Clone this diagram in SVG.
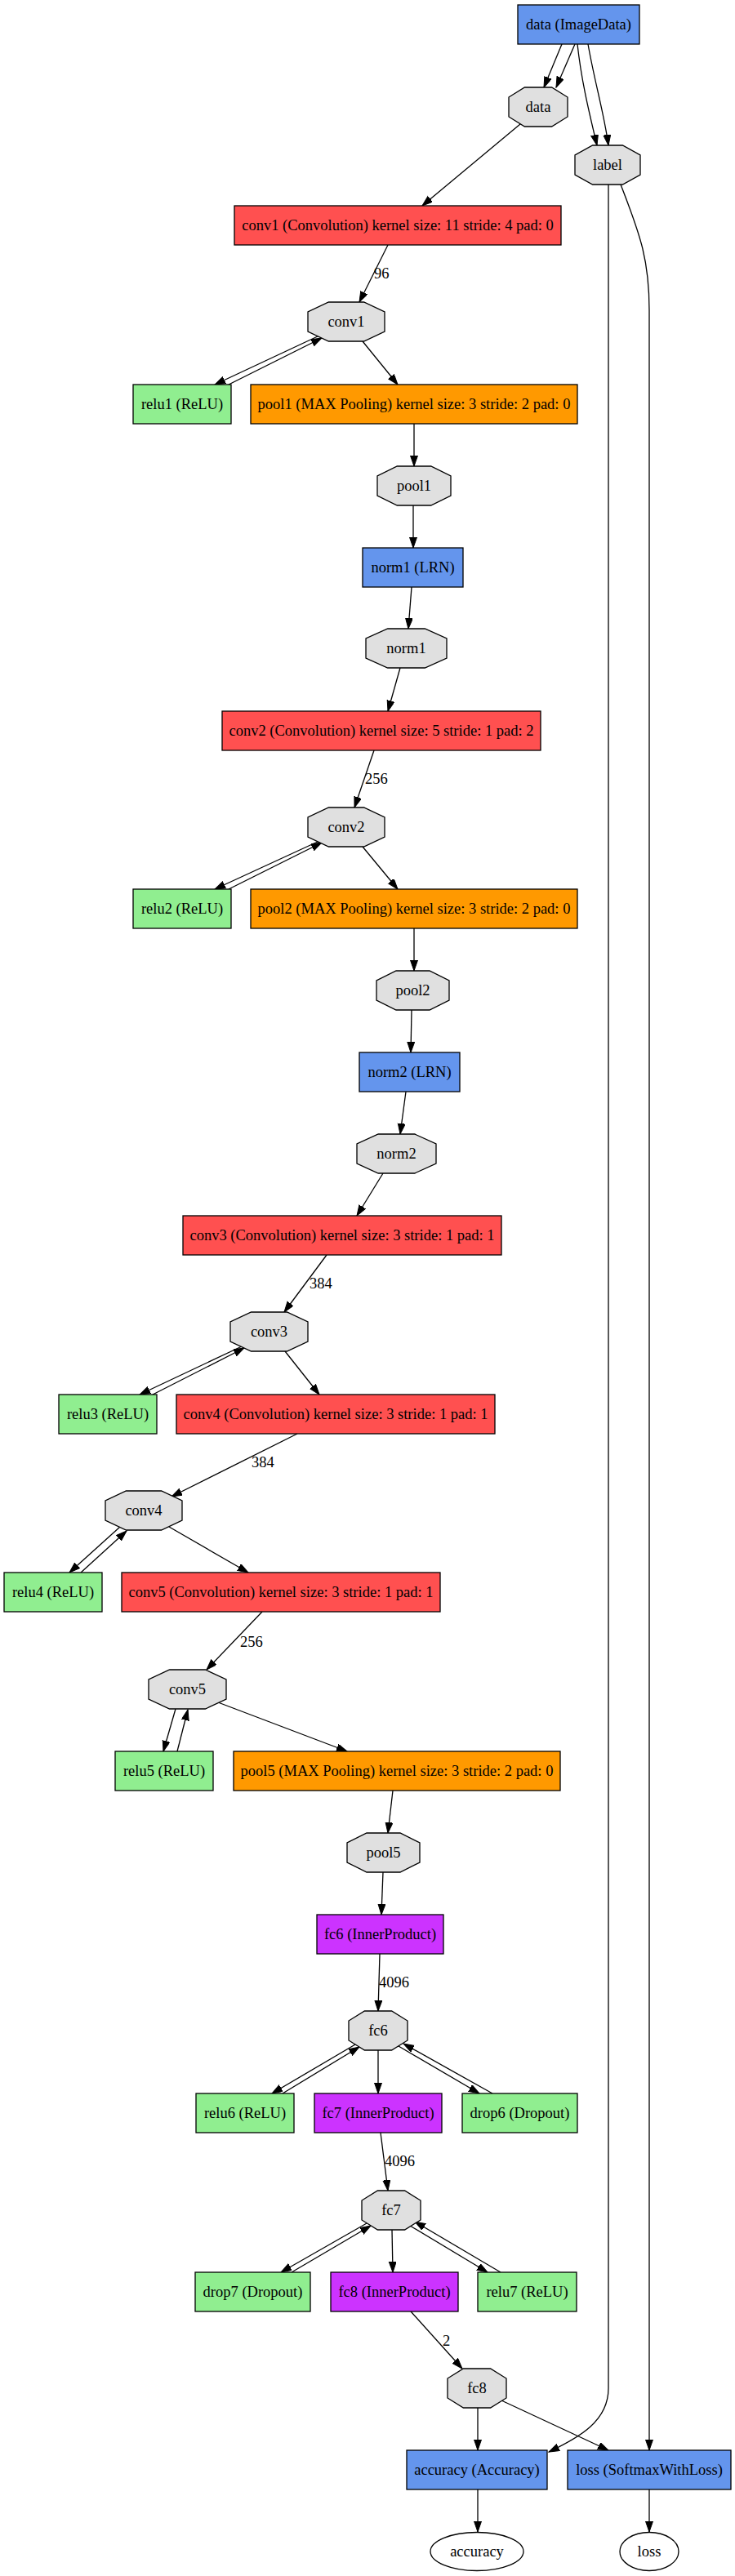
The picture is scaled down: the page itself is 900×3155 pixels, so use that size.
<svg xmlns="http://www.w3.org/2000/svg" width="900" height="3155" viewBox="0 0 900 3155">
<defs>
<marker id="ah" markerUnits="userSpaceOnUse" markerWidth="14" markerHeight="10" refX="13" refY="4.5" orient="auto">
<path d="M0,0 L13,4.5 L0,9 z" fill="#000" stroke="#000" stroke-width="1"/>
</marker>
<style>
text{font-family:"Liberation Serif","Times New Roman",serif;font-size:18.5px;fill:#000}
.n text{text-anchor:middle}
.box,.oct,.ell{stroke:#000;stroke-width:1.3}
.conv{fill:#FF5050}.pool{fill:#FF9900}.ip{fill:#CC33FF}.def{fill:#6495ED}.neu{fill:#90EE90}
.oct{fill:#E0E0E0}.ell{fill:#fff}
#edges path{fill:none;stroke:#000;stroke-width:1.3;marker-end:url(#ah)}
</style>
</defs>
<rect width="900" height="3155" fill="#fff"/>
<g id="edges">
<path d="M688,54 L666,107"/>
<path d="M704,54 L681,107"/>
<path d="M707,54 C712,100 722,140 731,178"/>
<path d="M720,54 C728,100 740,140 745,178"/>
<path d="M637,152 L517,252"/>
<path d="M475,300 L440,370"/>
<path d="M391,411 L263,471"/>
<path d="M280,471 L394,414"/>
<path d="M444,418 L487,471"/>
<path d="M507,519 L507,571"/>
<path d="M506,619 L506,671"/>
<path d="M504,719 L500,770"/>
<path d="M490,818 L475,871"/>
<path d="M458,919 L434,989"/>
<path d="M391,1030 L263,1089"/>
<path d="M280,1089 L394,1032"/>
<path d="M444,1037 L487,1089"/>
<path d="M507,1137 L507,1189"/>
<path d="M504,1237 L503,1289"/>
<path d="M497,1337 L490,1389"/>
<path d="M469,1437 L437,1489"/>
<path d="M400,1537 L348,1607"/>
<path d="M296,1649 L171,1708"/>
<path d="M187,1708 L299,1651"/>
<path d="M349,1655 L391,1708"/>
<path d="M364,1756 L210,1833"/>
<path d="M147,1870 L85,1926"/>
<path d="M99,1926 L155,1875"/>
<path d="M207,1870 L304,1926"/>
<path d="M321,1974 L253,2045"/>
<path d="M215,2093 L200,2145"/>
<path d="M217,2145 L230,2094"/>
<path d="M267,2085 L425,2145"/>
<path d="M481,2193 L475,2245"/>
<path d="M469,2293 L467,2345"/>
<path d="M465,2393 L463,2463"/>
<path d="M435,2504 L333,2564"/>
<path d="M346,2564 L440,2507"/>
<path d="M463,2511 L463,2564"/>
<path d="M488,2506 L587,2564"/>
<path d="M603,2564 L494,2503"/>
<path d="M466,2612 L475,2683"/>
<path d="M449,2723 L344,2783"/>
<path d="M357,2783 L454,2726"/>
<path d="M480,2731 L481,2783"/>
<path d="M502,2726 L597,2783"/>
<path d="M613,2783 L508,2721"/>
<path d="M503,2831 L566,2901"/>
<path d="M585,2949 L585,3001"/>
<path d="M614,2940 L745,3001"/>
<path d="M745,226 L745,2925 C745,2965 710,2985 672,3003"/>
<path d="M760,226 C785,290 795,320 795,380 L795,3001"/>
<path d="M585,3049 L585,3101"/>
<path d="M795,3049 L795,3101"/>
<text x="458" y="341">96</text>
<text x="447" y="960">256</text>
<text x="379" y="1578">384</text>
<text x="308" y="1797">384</text>
<text x="294" y="2017">256</text>
<text x="464" y="2434">4096</text>
<text x="471" y="2653">4096</text>
<text x="542" y="2873">2</text>
</g>
<g class="n" id="n_data_layer"><rect class="box def" x="634" y="6" width="149" height="48"/><text x="708.5" y="36">data (ImageData)</text></g>
<g class="n" id="n_data_blob"><polygon class="oct" points="642.4,107 675.6,107 695,119 695,143 675.6,155 642.4,155 623,143 623,119"/><text x="659" y="137">data</text></g>
<g class="n" id="n_label_blob"><polygon class="oct" points="725.6,178 762.4,178 784,190 784,214 762.4,226 725.6,226 704,214 704,190"/><text x="744" y="208">label</text></g>
<g class="n" id="n_conv1"><rect class="box conv" x="287" y="252" width="400" height="48"/><text x="487" y="282">conv1 (Convolution) kernel size: 11 stride: 4 pad: 0</text></g>
<g class="n" id="n_conv1_blob"><polygon class="oct" points="402.4,370 445.6,370 471,382 471,406 445.6,418 402.4,418 377,406 377,382"/><text x="424" y="400">conv1</text></g>
<g class="n" id="n_relu1"><rect class="box neu" x="163" y="471" width="120" height="48"/><text x="223" y="501">relu1 (ReLU)</text></g>
<g class="n" id="n_pool1"><rect class="box pool" x="307" y="471" width="400" height="48"/><text x="507" y="501">pool1 (MAX Pooling) kernel size: 3 stride: 2 pad: 0</text></g>
<g class="n" id="n_pool1_blob"><polygon class="oct" points="486.3,571 527.7,571 552,583 552,607 527.7,619 486.3,619 462,607 462,583"/><text x="507" y="601">pool1</text></g>
<g class="n" id="n_norm1"><rect class="box def" x="444" y="671" width="123" height="48"/><text x="505.5" y="701">norm1 (LRN)</text></g>
<g class="n" id="n_norm1_blob"><polygon class="oct" points="474.7,770 520.3,770 547,782 547,806 520.3,818 474.7,818 448,806 448,782"/><text x="497.5" y="800">norm1</text></g>
<g class="n" id="n_conv2"><rect class="box conv" x="272" y="871" width="390" height="48"/><text x="467" y="901">conv2 (Convolution) kernel size: 5 stride: 1 pad: 2</text></g>
<g class="n" id="n_conv2_blob"><polygon class="oct" points="402.4,989 445.6,989 471,1001 471,1025 445.6,1037 402.4,1037 377,1025 377,1001"/><text x="424" y="1019">conv2</text></g>
<g class="n" id="n_relu2"><rect class="box neu" x="163" y="1089" width="120" height="48"/><text x="223" y="1119">relu2 (ReLU)</text></g>
<g class="n" id="n_pool2"><rect class="box pool" x="307" y="1089" width="400" height="48"/><text x="507" y="1119">pool2 (MAX Pooling) kernel size: 3 stride: 2 pad: 0</text></g>
<g class="n" id="n_pool2_blob"><polygon class="oct" points="485,1189 526,1189 550,1201 550,1225 526,1237 485,1237 461,1225 461,1201"/><text x="505.5" y="1219">pool2</text></g>
<g class="n" id="n_norm2"><rect class="box def" x="440" y="1289" width="123" height="48"/><text x="501.5" y="1319">norm2 (LRN)</text></g>
<g class="n" id="n_norm2_blob"><polygon class="oct" points="463.2,1389 507.8,1389 534,1401 534,1425 507.8,1437 463.2,1437 437,1425 437,1401"/><text x="485.5" y="1419">norm2</text></g>
<g class="n" id="n_conv3"><rect class="box conv" x="224" y="1489" width="390" height="48"/><text x="419" y="1519">conv3 (Convolution) kernel size: 3 stride: 1 pad: 1</text></g>
<g class="n" id="n_conv3_blob"><polygon class="oct" points="307.6,1607 351.4,1607 377,1619 377,1643 351.4,1655 307.6,1655 282,1643 282,1619"/><text x="329.5" y="1637">conv3</text></g>
<g class="n" id="n_relu3"><rect class="box neu" x="72" y="1708" width="120" height="48"/><text x="132" y="1738">relu3 (ReLU)</text></g>
<g class="n" id="n_conv4"><rect class="box conv" x="216" y="1708" width="390" height="48"/><text x="411" y="1738">conv4 (Convolution) kernel size: 3 stride: 1 pad: 1</text></g>
<g class="n" id="n_conv4_blob"><polygon class="oct" points="154.4,1826 197.6,1826 223,1838 223,1862 197.6,1874 154.4,1874 129,1862 129,1838"/><text x="176" y="1856">conv4</text></g>
<g class="n" id="n_relu4"><rect class="box neu" x="5" y="1926" width="120" height="48"/><text x="65" y="1956">relu4 (ReLU)</text></g>
<g class="n" id="n_conv5"><rect class="box conv" x="149" y="1926" width="390" height="48"/><text x="344" y="1956">conv5 (Convolution) kernel size: 3 stride: 1 pad: 1</text></g>
<g class="n" id="n_conv5_blob"><polygon class="oct" points="207.6,2045 251.4,2045 277,2057 277,2081 251.4,2093 207.6,2093 182,2081 182,2057"/><text x="229.5" y="2075">conv5</text></g>
<g class="n" id="n_relu5"><rect class="box neu" x="141" y="2145" width="120" height="48"/><text x="201" y="2175">relu5 (ReLU)</text></g>
<g class="n" id="n_pool5"><rect class="box pool" x="286" y="2145" width="400" height="48"/><text x="486" y="2175">pool5 (MAX Pooling) kernel size: 3 stride: 2 pad: 0</text></g>
<g class="n" id="n_pool5_blob"><polygon class="oct" points="449,2245 490,2245 514,2257 514,2281 490,2293 449,2293 425,2281 425,2257"/><text x="469.5" y="2275">pool5</text></g>
<g class="n" id="n_fc6"><rect class="box ip" x="388" y="2345" width="155" height="48"/><text x="465.5" y="2375">fc6 (InnerProduct)</text></g>
<g class="n" id="n_fc6_blob"><polygon class="oct" points="446.4,2463 479.6,2463 499,2475 499,2499 479.6,2511 446.4,2511 427,2499 427,2475"/><text x="463" y="2493">fc6</text></g>
<g class="n" id="n_relu6"><rect class="box neu" x="240" y="2564" width="120" height="48"/><text x="300" y="2594">relu6 (ReLU)</text></g>
<g class="n" id="n_fc7"><rect class="box ip" x="385" y="2564" width="156" height="48"/><text x="463" y="2594">fc7 (InnerProduct)</text></g>
<g class="n" id="n_drop6"><rect class="box neu" x="566" y="2564" width="141" height="48"/><text x="636.5" y="2594">drop6 (Dropout)</text></g>
<g class="n" id="n_fc7_blob"><polygon class="oct" points="462.4,2683 495.6,2683 515,2695 515,2719 495.6,2731 462.4,2731 443,2719 443,2695"/><text x="479" y="2713">fc7</text></g>
<g class="n" id="n_drop7"><rect class="box neu" x="239" y="2783" width="141" height="48"/><text x="309.5" y="2813">drop7 (Dropout)</text></g>
<g class="n" id="n_fc8"><rect class="box ip" x="405" y="2783" width="156" height="48"/><text x="483" y="2813">fc8 (InnerProduct)</text></g>
<g class="n" id="n_relu7"><rect class="box neu" x="585" y="2783" width="121" height="48"/><text x="645.5" y="2813">relu7 (ReLU)</text></g>
<g class="n" id="n_fc8_blob"><polygon class="oct" points="567.4,2901 600.6,2901 620,2913 620,2937 600.6,2949 567.4,2949 548,2937 548,2913"/><text x="584" y="2931">fc8</text></g>
<g class="n" id="n_accuracy"><rect class="box def" x="498" y="3001" width="172" height="48"/><text x="584" y="3031">accuracy (Accuracy)</text></g>
<g class="n" id="n_loss"><rect class="box def" x="695" y="3001" width="200" height="48"/><text x="795" y="3031">loss (SoftmaxWithLoss)</text></g>
<g class="n" id="n_accuracy_blob"><ellipse class="ell" cx="584" cy="3125" rx="57" ry="23.5"/><text x="584" y="3131">accuracy</text></g>
<g class="n" id="n_loss_blob"><ellipse class="ell" cx="795" cy="3125" rx="36" ry="23.5"/><text x="795" y="3131">loss</text></g>
</svg>
